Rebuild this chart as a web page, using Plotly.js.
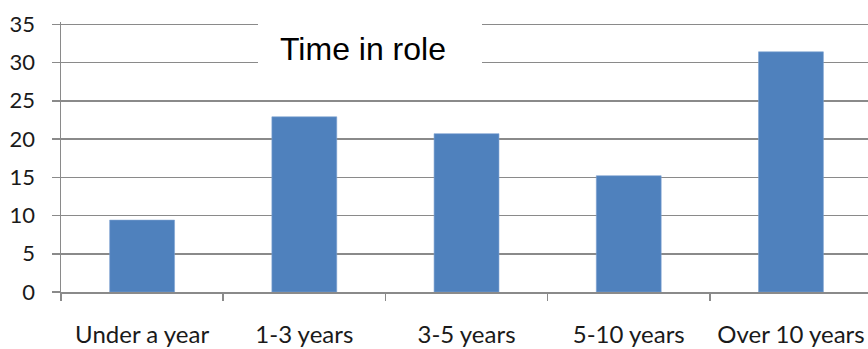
<!DOCTYPE html>
<html>
<head>
<meta charset="utf-8">
<script src="https://cdn.plot.ly/plotly-3.0.1.min.js"></script>
<style>
  html, body { margin: 0; padding: 0; background: #fff; }
  #chart { width: 868px; height: 349px; }
</style>
</head>
<body>
<div id="chart"></div>
<script>
// Share of respondents by time spent in their current role
const categories = ['Under a year', '1-3 years', '3-5 years', '5-10 years', 'Over 10 years'];
const shares = [9.4, 22.9, 20.7, 15.2, 31.4];
const yTicks = [0, 5, 10, 15, 20, 25, 30, 35];
const chartTitle = 'Time in role';

const gridGrey = '#8a8a8a';
const labelFamily = 'Lato, "Open Sans", sans-serif';

const trace = {
  type: 'bar',
  x: categories,
  y: shares,
  width: 0.4,
  marker: { color: '#4f81bd', line: { color: '#7ea3d2', width: 0.6 } },
  hoverinfo: 'x+y'
};

// plot area in pixels; a little headroom above 35 keeps its grid line drawn
const plotLeft = 61, plotRight = 868, plotTop = 22, plotBottom = 292;
const plotW = plotRight - plotLeft, plotH = plotBottom - plotTop;

const layout = {
  width: 868,
  height: 349,
  margin: { l: plotLeft, r: 868 - plotRight, t: plotTop, b: 349 - plotBottom, pad: 0 },
  paper_bgcolor: '#fff',
  plot_bgcolor: '#fff',
  showlegend: false,
  xaxis: {
    type: 'category',
    range: [-0.5, 4.475],
    showgrid: false,
    showline: true,
    linecolor: gridGrey,
    linewidth: 1.5,
    ticks: 'outside',
    tickson: 'boundaries',
    ticklen: 7,
    tickcolor: gridGrey,
    tickwidth: 1.5,
    tickfont: { family: labelFamily, size: 24, color: '#1a1a1a' },
    ticklabelstandoff: 21,
    fixedrange: true
  },
  yaxis: {
    range: [0, 35.3],
    tickvals: yTicks,
    ticktext: yTicks.map(String),
    showgrid: true,
    gridcolor: gridGrey,
    gridwidth: 1.5,
    zeroline: false,
    showline: true,
    linecolor: gridGrey,
    linewidth: 1.5,
    ticks: 'outside',
    ticklen: 8,
    tickcolor: gridGrey,
    tickwidth: 1.5,
    tickfont: { family: labelFamily, size: 22, color: '#1a1a1a' },
    ticklabelstandoff: 12,
    fixedrange: true
  },
  shapes: [
    {
      // white panel behind the chart title, masking the top grid lines
      type: 'rect',
      xref: 'paper', yref: 'paper',
      x0: (258 - plotLeft) / plotW, x1: (482 - plotLeft) / plotW,
      y0: (plotBottom - 80) / plotH, y1: (plotBottom - 10) / plotH,
      fillcolor: '#ffffff',
      line: { width: 0 },
      layer: 'above'
    }
  ],
  annotations: [
    {
      text: chartTitle,
      xref: 'paper', yref: 'paper',
      x: (363 - plotLeft) / plotW, y: (plotBottom - 49) / plotH,
      xanchor: 'center', yanchor: 'middle',
      showarrow: false,
      font: { family: '"Liberation Sans", Arial, sans-serif', size: 32, color: '#000' }
    }
  ]
};

Plotly.newPlot('chart', [trace], layout, { displayModeBar: false, staticPlot: true });
</script>
</body>
</html>
